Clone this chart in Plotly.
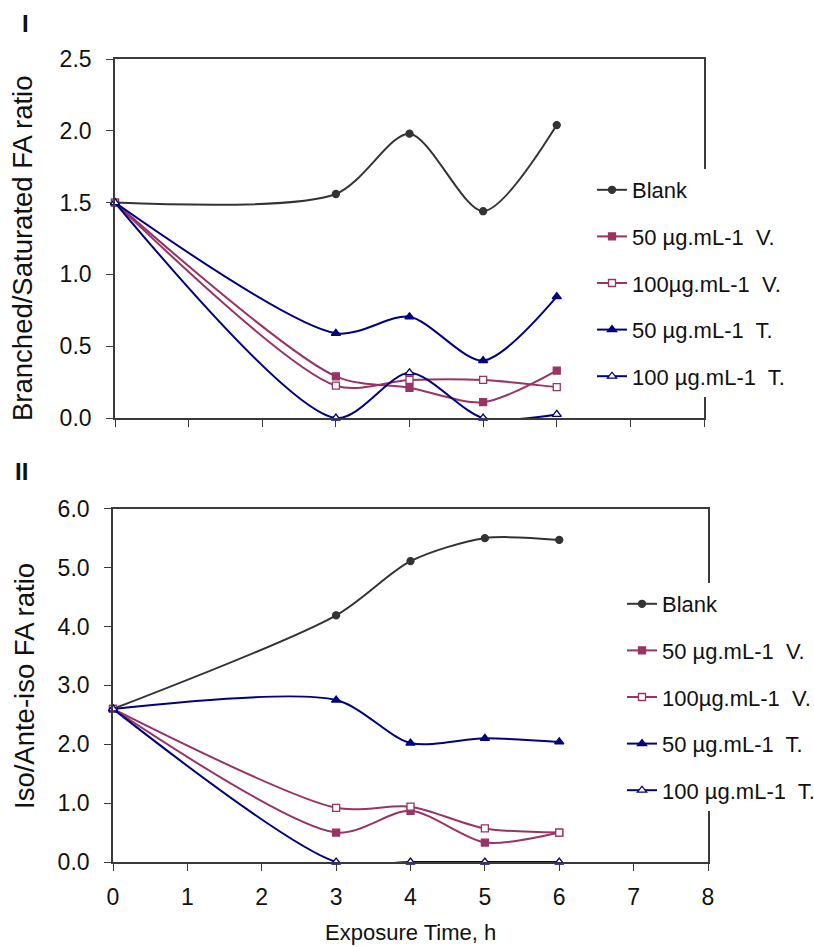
import plotly.graph_objects as go

# ---- data ----
hours = [0, 3, 4, 5, 6]
series_names = ["Blank", "50 µg.mL-1  V.", "100µg.mL-1  V.", "50 µg.mL-1  T.", "100 µg.mL-1  T."]

# Panel I: Branched/Saturated FA ratio
branched_blank = [1.50, 1.56, 1.98, 1.44, 2.04]
branched_v50 = [1.50, 0.29, 0.21, 0.11, 0.33]
branched_v100 = [1.50, 0.225, 0.265, 0.265, 0.215]
branched_t50 = [1.50, 0.59, 0.705, 0.40, 0.845]
branched_t100 = [1.50, 0.0, 0.315, 0.0, 0.025]

# Panel II: Iso/Ante-iso FA ratio
iso_blank = [2.60, 4.19, 5.11, 5.50, 5.47]
iso_v50 = [2.60, 0.50, 0.87, 0.33, 0.50]
iso_v100 = [2.60, 0.92, 0.94, 0.57, 0.50]
iso_t50 = [2.60, 2.75, 2.02, 2.10, 2.04]
iso_t100 = [2.60, 0.0, 0.0, 0.0, 0.0]

x_ticks = [0, 1, 2, 3, 4, 5, 6, 7, 8]
y1_ticks = [0.0, 0.5, 1.0, 1.5, 2.0, 2.5]
y2_ticks = [0.0, 1.0, 2.0, 3.0, 4.0, 5.0, 6.0]

# ---- styles ----
GRAY = "#333333"
PLUM = "#993366"
NAVY = "#000080"
styles = [
    dict(color=GRAY, symbol="circle", size=7, fill=GRAY),
    dict(color=PLUM, symbol="square", size=7, fill=PLUM),
    dict(color=PLUM, symbol="square", size=7, fill="white"),
    dict(color=NAVY, symbol="triangle-up", size=8, fill=NAVY),
    dict(color=NAVY, symbol="triangle-up", size=8, fill="white"),
]
FONT = "Liberation Sans, Arial, sans-serif"

fig = go.Figure()

def add_panel(series, xaxis, yaxis, legend):
    for i, (name, ys) in enumerate(zip(series_names, series)):
        st = styles[i]
        fig.add_trace(go.Scatter(
            x=hours, y=ys, name=name, mode="lines+markers",
            xaxis=xaxis, yaxis=yaxis, legend=legend,
            legendgroup=f"{legend}{i}",
            line=dict(color=st["color"], width=2, shape="spline", smoothing=0.8),
            marker=dict(symbol=st["symbol"], size=st["size"], color=st["fill"],
                        line=dict(color=st["color"], width=1.3)),
            cliponaxis=False,
        ))

add_panel([branched_blank, branched_v50, branched_v100, branched_t50, branched_t100], "x", "y", "legend")
add_panel([iso_blank, iso_v50, iso_v100, iso_t50, iso_t100], "x2", "y2", "legend2")

W, H = 814, 947
def px(x):
    return x / W
def py(y):
    return 1 - y / H

axis_common = dict(
    showline=True, linecolor="#3a3a3a", linewidth=1.6, mirror=True,
    showgrid=False, zeroline=False, ticks="outside", ticklen=7, tickwidth=1.3,
    tickcolor="#3a3a3a", tickfont=dict(family=FONT, size=23, color="#111111"),
)

def label(text, x, y, size, angle=0):
    return dict(text=text, x=px(x), y=py(y), xref="paper", yref="paper",
                xanchor="center", yanchor="middle", textangle=angle,
                showarrow=False, font=dict(family=FONT, size=size, color="#111111"))

fig.update_layout(
    width=W, height=H, margin=dict(l=0, r=0, t=0, b=0, autoexpand=False),
    paper_bgcolor="white", plot_bgcolor="white",
    font=dict(family=FONT, color="#111111"),
    xaxis=dict(domain=[px(115), px(704)], range=[0, 8], tickvals=x_ticks,
               showticklabels=False, anchor="y", **axis_common),
    yaxis=dict(domain=[py(418), py(59)], range=[0, 2.5], tickvals=y1_ticks,
               tickformat=".1f", anchor="x", ticklabelstandoff=10, **axis_common),
    xaxis2=dict(domain=[px(113), px(708)], range=[0, 8], tickvals=x_ticks,
                anchor="y2", ticklabelstandoff=7, **axis_common),
    yaxis2=dict(domain=[py(862), py(508.7)], range=[0, 6], tickvals=y2_ticks,
                tickformat=".1f", anchor="x2", ticklabelstandoff=10, **axis_common),
    legend=dict(x=px(592), y=py(169), xanchor="left", yanchor="top",
                bgcolor="white", font=dict(family=FONT, size=22, color="#111111"),
                tracegroupgap=15, traceorder="grouped", itemwidth=30),
    legend2=dict(x=px(622), y=py(583), xanchor="left", yanchor="top",
                 bgcolor="white", font=dict(family=FONT, size=22, color="#111111"),
                 tracegroupgap=15, traceorder="grouped", itemwidth=30),
    annotations=[
        label("<b>I</b>", 25, 24, 24),
        label("<b>II</b>", 21, 471, 24),
        label("Branched/Saturated FA ratio", 23, 248, 27.5, -90),
        label("Iso/Ante-iso FA ratio", 24, 686, 27.5, -90),
        label("Exposure Time, h", 410, 932, 22),
    ],
)

fig.write_html("out.html")
